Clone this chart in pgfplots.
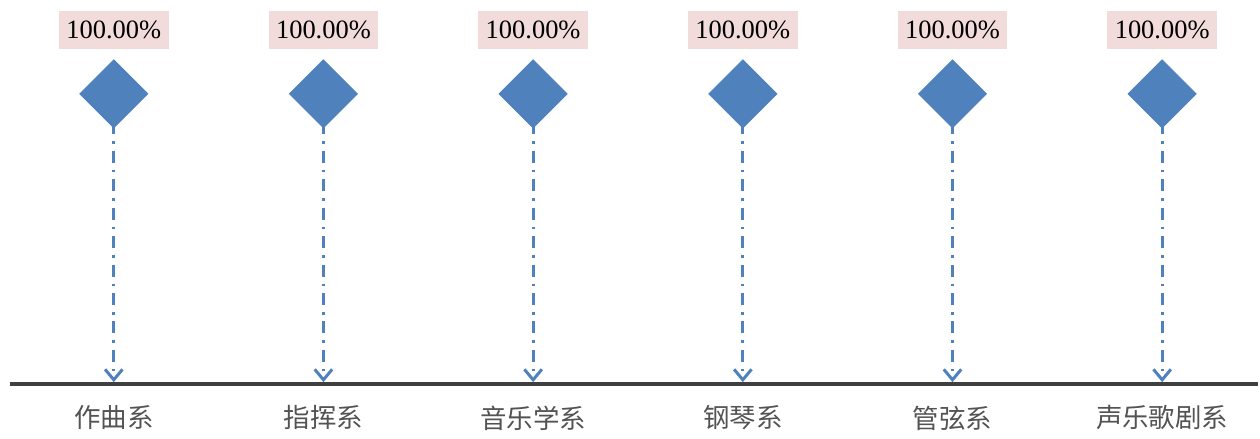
\documentclass[border=0pt]{standalone}
\usepackage{fontspec}
\setmainfont{Liberation Serif}
\newfontfamily\cjk{Noto Sans CJK SC}
\usepackage{pgfplots}
\usepackage{pgfplotstable}
\pgfplotsset{compat=1.18}
\usetikzlibrary{arrows.meta}

\definecolor{mblue}{RGB}{79,129,189}
\definecolor{lblpink}{RGB}{242,220,219}
\definecolor{axgray}{RGB}{64,64,64}

\pgfplotstableread{
x y
0 100
1 100
2 100
3 100
4 100
5 100
}\rates

\begin{document}
\begin{tikzpicture}
\begin{axis}[
    scale only axis,
    width=500pt, height=154pt,
    xmin=-0.495, xmax=5.457,
    ymin=0, ymax=132.3,
    axis x line=bottom,
    axis y line=none,
    x axis line style={axgray, line width=1.6pt, -},
    xtick=data,
    xticklabels={作曲系,指挥系,音乐学系,钢琴系,管弦系,声乐歌剧系},
    major tick length=0pt,
    xticklabel style={font=\cjk\fontsize{10.6}{12}\selectfont, text=axgray!90, yshift=-5pt},
    ytick=\empty,
    clip=false,
    /pgf/number format/assume math mode=true,
]
\addplot[mblue, line width=1.1pt, dash pattern=on 4.8pt off 2.8pt on 1pt off 2.8pt,
    shorten >=0.9pt,
    -{Straight Barb[length=4.2pt, width=7pt, line width=1.2pt]},
    quiver={u=0, v=-\thisrow{y}}] table {\rates};
\addplot[only marks, mark=square*, mark size=9.6pt, mblue,
    every mark/.append style={rotate=45, fill=mblue, draw=mblue},
    nodes near coords={\pgfmathprintnumber[fixed,fixed zerofill,precision=2]{\pgfplotspointmeta}\%},
    every node near coord/.append style={anchor=center, yshift=25.6pt,
        fill=lblpink, text=black, inner xsep=3pt, minimum height=15.2pt,
        font=\fontsize{10.6}{12}\selectfont}] table {\rates};
\end{axis}
\path (-4pt,-19.6pt) rectangle (500pt,154pt);
\end{tikzpicture}
\end{document}
